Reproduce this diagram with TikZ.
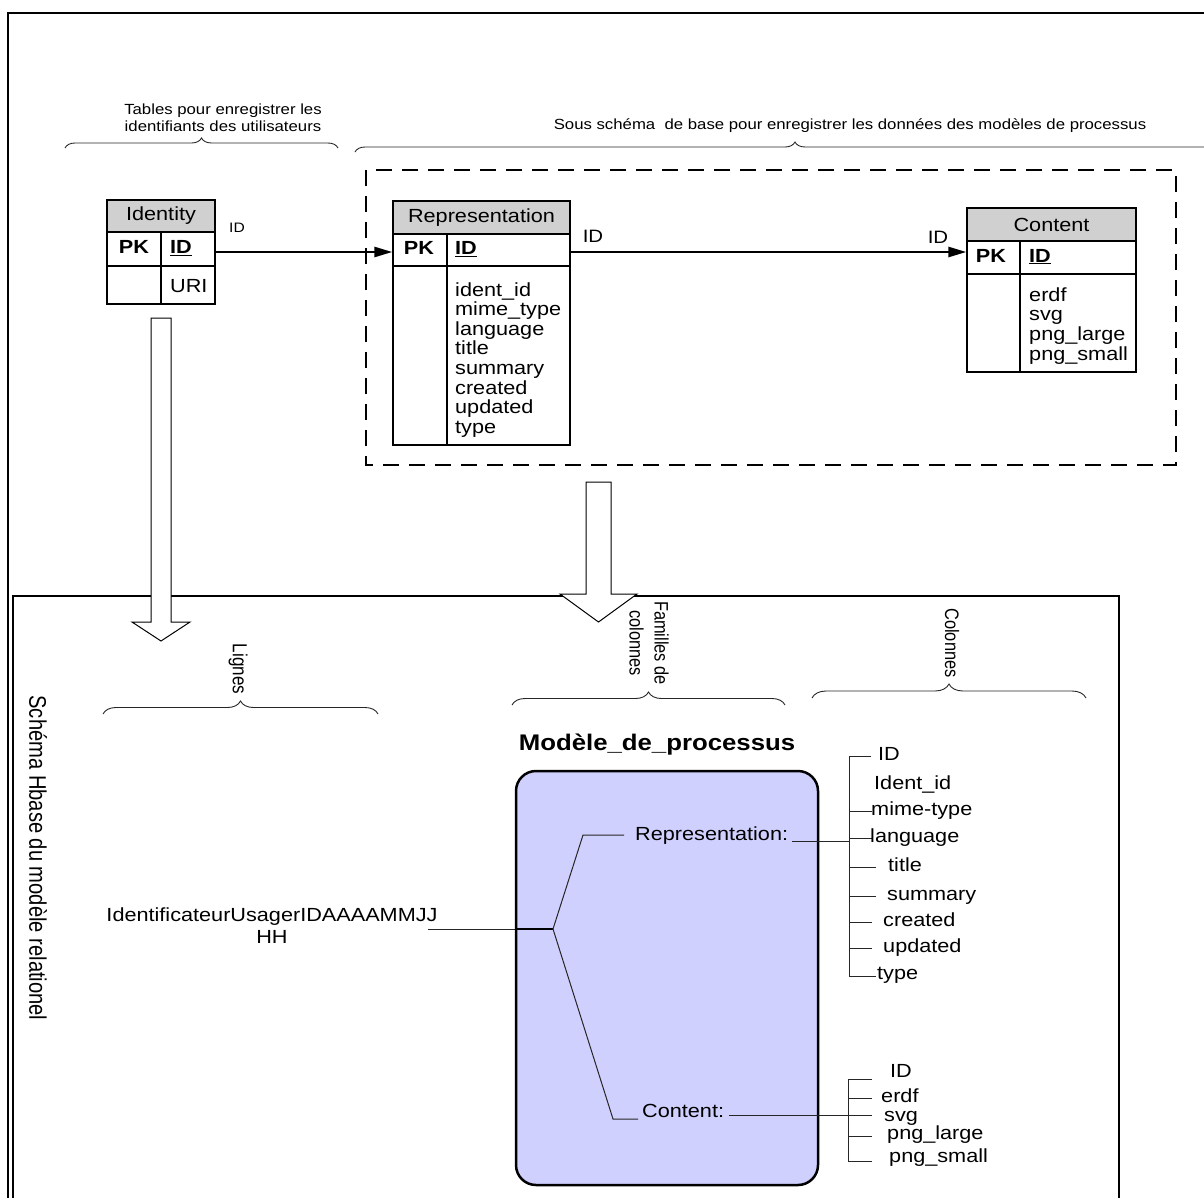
\documentclass[tikz,border=0pt]{standalone}
\usepackage{fontspec}
\setmainfont{Liberation Sans}
\newfontfamily\hf[FakeStretch=1.14]{Liberation Sans}
\newfontfamily\rf[FakeStretch=0.84]{Liberation Sans}
\usetikzlibrary{arrows.meta,decorations.pathreplacing}
\definecolor{lav}{RGB}{208,208,255}
\definecolor{hdrgray}{RGB}{208,208,208}
\begin{document}
\begin{tikzpicture}[x=1pt,y=-1pt,
  tt/.style={font=\hf\fontsize{19}{19.6}\selectfont, inner sep=0pt, text height=13.5pt, text depth=4pt},
  idl/.style={font=\hf\fontsize{17.9}{19}\selectfont, inner sep=0pt},
  sm/.style={font=\hf\fontsize{14.7}{17}\selectfont, inner sep=0pt, align=center},
  rot/.style={font=\rf\fontsize{19.5}{25}\selectfont, inner sep=0pt, rotate=-90, align=center},
  cell/.style={draw, line width=1.3pt, minimum width=#1, inner sep=0pt},
  hdr/.style={draw, line width=1.3pt, fill=hdrgray, inner sep=0pt, font=\hf\fontsize{19}{19.6}\selectfont},
  arr/.style={line width=2.6pt, -{Triangle[length=18pt,width=10pt]}},
  brc/.style={decorate, decoration={brace, amplitude=#1}, line width=0.9pt, black!85},
  hollow/.style={draw, fill=white, line width=1pt, line join=miter},
  tl/.style={line width=1pt, black!85}
]
\useasboundingbox (0,0) rectangle (1204,1197);
\clip (0,0) rectangle (1204,1197);

% outer frame
\draw[line width=2pt] (8,13) rectangle (1220,1220);

% top labels and braces
\node[sm] (lblTables) at (223,118) {Tables pour enregistrer les\\identifiants des utilisateurs};
\draw[brc=10pt] (65,148) -- (338,148);
\node[sm] (lblSous) at (850,126) {Sous schéma~ de base pour enregistrer les données des modèles de processus};
\draw[brc=10pt] (355,152) -- (1235,152);

% dashed box
\draw[line width=2.5pt, dash pattern=on 16pt off 10pt] (366,170) rectangle (1176,465);

% Identity table
\node[hdr, minimum width=108, minimum height=32] (idH) at (161,216) {Identity};
\node[cell=108, minimum height=34] (idP) at (161,249) {};
\node[cell=108, minimum height=38] (idB) at (161,285) {};
\draw[line width=1.3pt] (161,232) -- (161,304);
\node[tt] (idPK) at (134,249) {\textbf{PK}};
\node[tt, anchor=west] (idID) at (170,249) {\textbf{\underline{ID}}};
\node[tt, anchor=west] (idURI) at (170,288) {URI};

% Representation table
\node[hdr, minimum width=177, minimum height=33] (repH) at (481.5,217.5) {Representation};
\node[cell=177, minimum height=32] (repP) at (481.5,250) {};
\node[cell=177, minimum height=179] (repB) at (481.5,355.5) {};
\draw[line width=1.3pt] (447,234) -- (447,445);
\node[tt] (repPK) at (419,250) {\textbf{PK}};
\node[tt, anchor=west] (repID) at (455,250) {\textbf{\underline{ID}}};
\foreach \t [count=\i] in {ident\_id,mime\_type,language,title,summary,created,updated,type}
  \node[tt, anchor=base west] (repF\i) at (455,{296+19.6*(\i-1)}) {\t};

% Content table
\node[hdr, minimum width=169, minimum height=33] (conH) at (1051.5,224.5) {Content};
\node[cell=169, minimum height=33] (conP) at (1051.5,257.5) {};
\node[cell=169, minimum height=98] (conB) at (1051.5,323) {};
\draw[line width=1.3pt] (1020,241) -- (1020,372);
\node[tt] (conPK) at (991,257.5) {\textbf{PK}};
\node[tt, anchor=west] (conID) at (1029,257.5) {\textbf{\underline{ID}}};
\foreach \t [count=\i] in {erdf,svg,png\_large,png\_small}
  \node[tt, anchor=base west] (conF\i) at (1029,{301+19.7*(\i-1)}) {\t};

% relations
\node[idl, font=\hf\fontsize{13.7}{15}\selectfont] (lblID1) at (237,228) {ID};
\node[idl] (lblID2) at (593,236) {ID};
\node[idl] (lblID3) at (938,237) {ID};
\draw[arr] ([shift={(0,3)}]idP.east) -- ([shift={(0,2)}]repP.west);
\draw[arr] ([shift={(0,2)}]repP.east) -- ([shift={(0,2)}]repP.east -| conP.west);

% lower box
\draw[line width=2.5pt] (13,596) rectangle (1119,1220);

% hollow arrows
\draw[hollow] (151,318) -- (171,318) -- (171,622) -- (190,622) -- (161,641) -- (132,622) -- (151,622) -- cycle;
\draw[hollow] (586,482) -- (611,482) -- (611,594) -- (637,594) -- (598.5,622) -- (560,594) -- (586,594) -- cycle;

% rotated labels and braces
\node[rot, font=\rf\fontsize{24}{28}\selectfont] (lblSchema) at (38,858) {Schéma Hbase du modèle relationel};
\node[rot, font=\rf\fontsize{20.3}{24}\selectfont] (lblLignes) at (238,669) {Lignes};
\draw[brc=13pt] (103,714) -- (378,714);
\node[rot] (lblFam) at (649,643) {Familles de\\colonnes};
\draw[brc=13pt] (512,705) -- (785,705);
\node[rot] (lblCol) at (952,643) {Colonnes};
\draw[brc=14pt] (812,698) -- (1086,698);

% Modele de processus
\node[font=\hf\fontsize{22.6}{25}\selectfont\bfseries, inner sep=0pt] (mpTitle) at (657,745) {Modèle\_de\_processus};
\node[draw, line width=2.5pt, fill=lav, rounded corners=20pt, minimum width=302, minimum height=414, inner sep=0pt] (mp) at (667,978) {};

% row key
\node[font=\hf\fontsize{19}{22}\selectfont, align=center, inner sep=0pt] (uid) at (272,926) {IdentificateurUsagerIDAAAAMMJJ\\HH};
\coordinate (j) at (553,929);
\coordinate (uidEnd) at (428,929);
\draw[tl] (uidEnd) -- (mp.west |- j);
\draw[line width=1.6pt] (mp.west |- j) -- (j);

% column families
\node[tt, anchor=west] (trep) at (635,836) {Representation:};
\node[tt, anchor=west] (tcon) at (642,1113) {Content:};
\coordinate (repStem) at (624,835);
\coordinate (conStem) at (638,1119);
\draw[tl] (j) -- (583,835) -- (repStem);
\draw[tl] (j) -- (613,1119) -- (conStem);

% representation columns
\coordinate (rv) at (849,841);
\draw[tl] ([shift={(4,5)}]trep.east) -- (rv);
\draw[tl] (871,756) -- (849,756) -- (849,976) -- (876,976);
\foreach \y/\e in {811/872,838/872,867/876,896/876,922/872,948/872}
  \draw[tl] (849,\y) -- (\e,\y);
\node[tt, anchor=west] (c1) at (878,756) {ID};
\node[tt, anchor=west] (c2) at (874,785) {Ident\_id};
\node[tt, anchor=west] (c3) at (871,811) {mime-type};
\node[tt, anchor=west] (c4) at (870,838) {language};
\node[tt, anchor=west] (c5) at (888,867) {title};
\node[tt, anchor=west] (c6) at (887,896) {summary};
\node[tt, anchor=west] (c7) at (883,922) {created};
\node[tt, anchor=west] (c8) at (883,948) {updated};
\node[tt, anchor=west] (c9) at (877,975) {type};

% content columns
\coordinate (cv) at (848,1115);
\draw[tl] ([shift={(5,2)}]tcon.east) -- (cv);
\draw[tl] (872,1079) -- (848,1079) -- (848,1161) -- (872,1161);
\foreach \y in {1098,1115,1136}
  \draw[tl] (848,\y) -- (872,\y);
\node[tt, anchor=west] (d1) at (890,1073) {ID};
\node[tt, anchor=west] (d2) at (881,1098) {erdf};
\node[tt, anchor=west] (d3) at (884,1117) {svg};
\node[tt, anchor=west] (d4) at (887,1135) {png\_large};
\node[tt, anchor=west] (d5) at (889,1158) {png\_small};
\end{tikzpicture}
\end{document}
